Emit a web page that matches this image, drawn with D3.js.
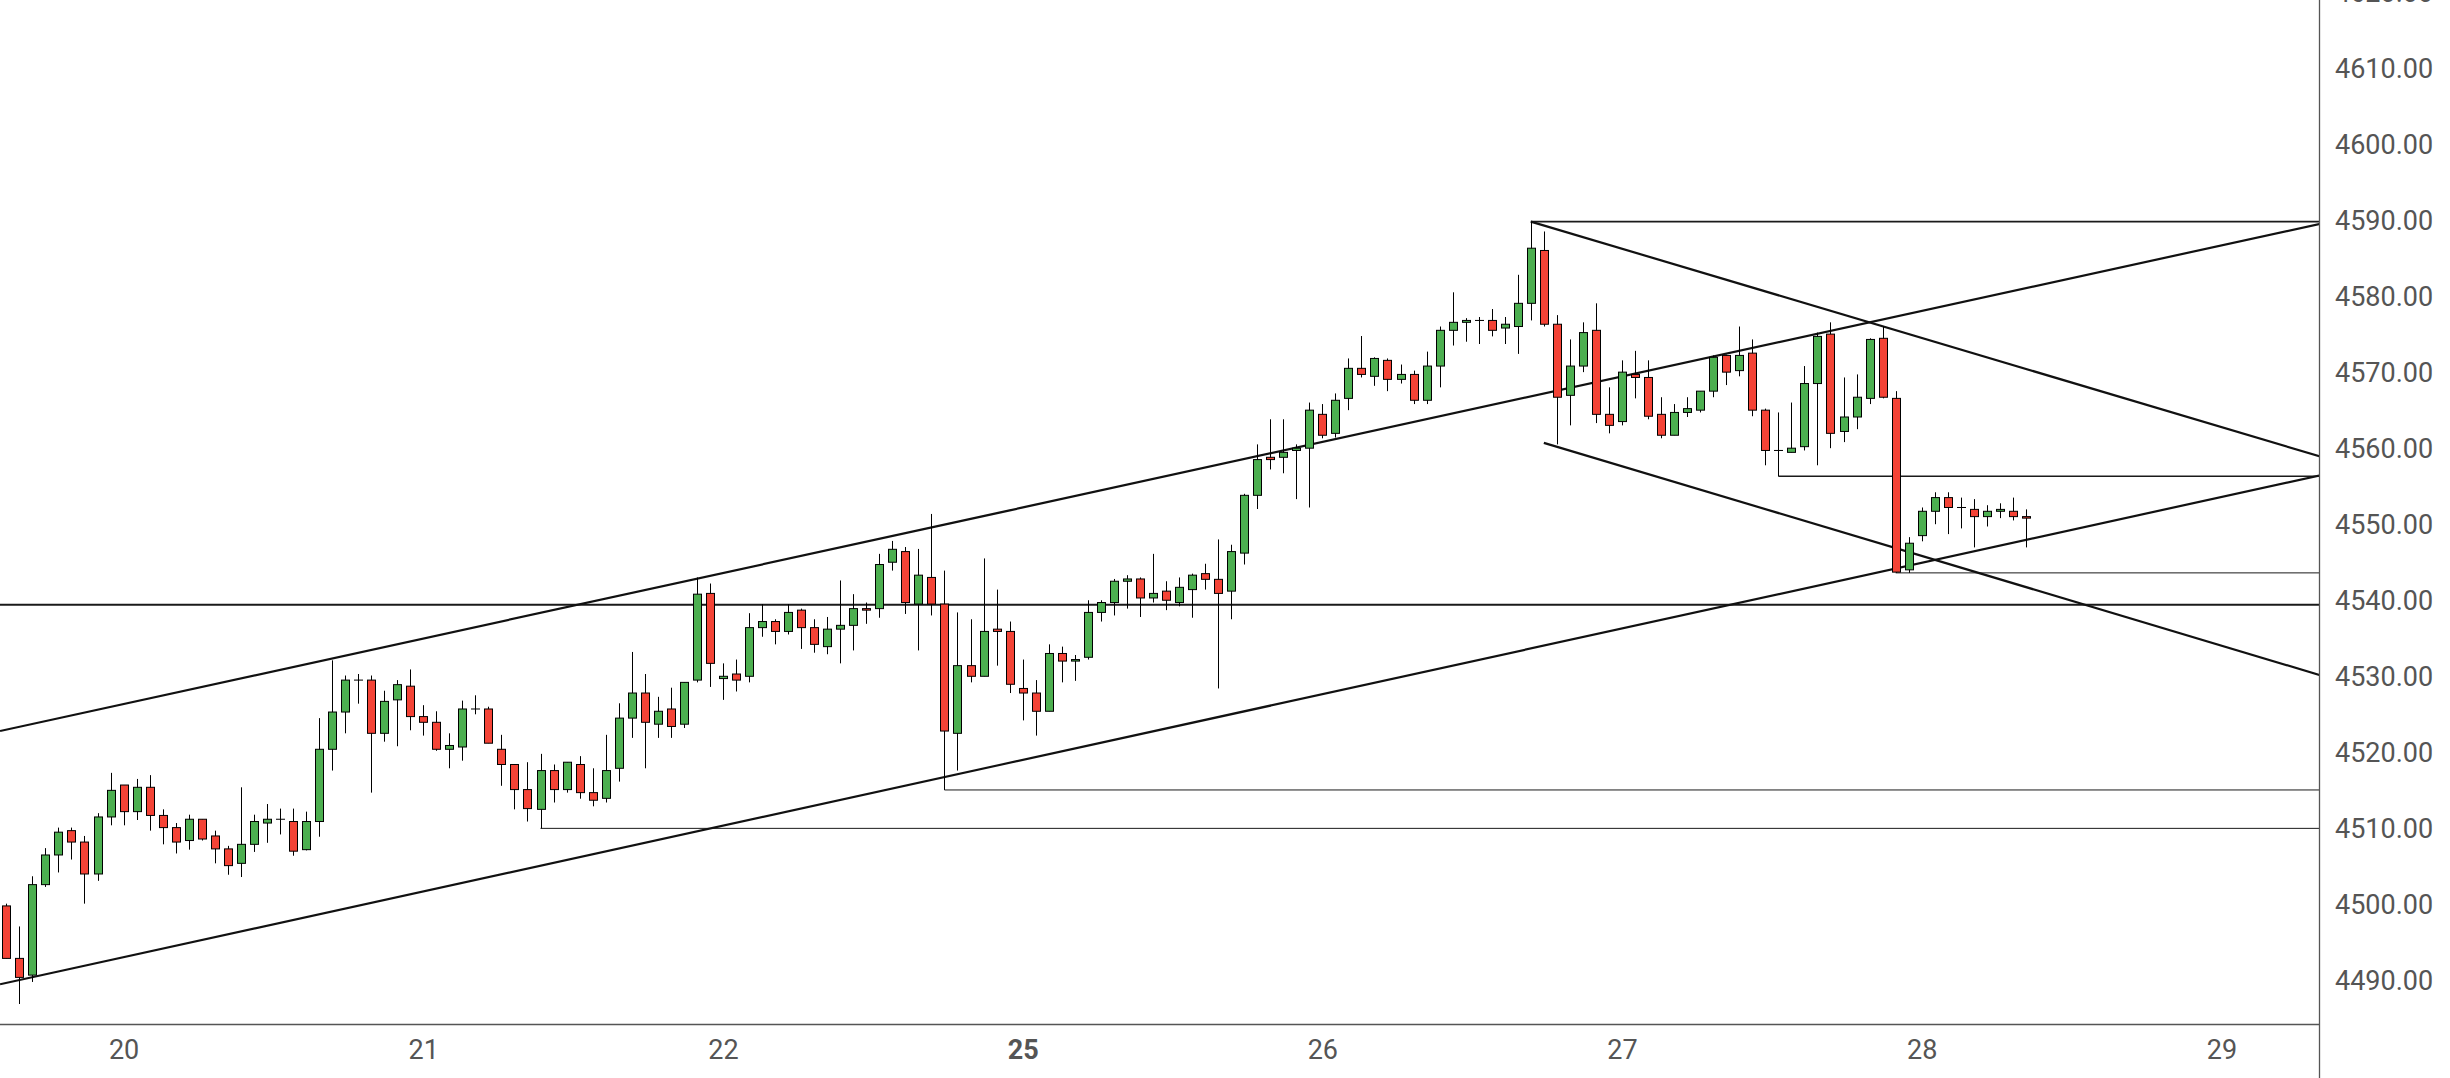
<!DOCTYPE html>
<html>
<head>
<meta charset="utf-8">
<script src="https://cdn.jsdelivr.net/npm/d3@7"></script>
<style>
  body { margin: 0; background: #fff; }
  svg { display: block; }
</style>
</head>
<body>
<svg id="chart"></svg>
<script>
// hourly bars, Oct 19 (tail) .. Oct 28
var open = [4499.9,4493.0,4490.8,4502.7,4506.6,4509.8,4508.3,4504.1,4511.6,4515.8,
  4512.3,4515.5,4511.8,4510.2,4508.5,4511.3,4509.1,4507.4,4505.5,4508.0,
  4510.8,4511.3,4511.0,4507.3,4511.0,4520.5,4525.4,4529.6,4529.6,4522.6,
  4527.0,4528.8,4524.8,4524.05,4520.5,4520.8,4525.8,4525.8,4520.5,4518.5,
  4515.2,4512.6,4517.7,4515.2,4518.5,4514.8,4514.05,4518.0,4524.6,4527.9,
  4523.8,4525.8,4523.8,4529.6,4541.0,4529.8,4530.4,4530.1,4536.5,4537.3,
  4536.0,4538.8,4536.5,4534.0,4536.3,4536.8,4539.0,4539.0,4545.1,4546.5,
  4539.6,4543.1,4539.6,4522.6,4531.5,4530.1,4536.3,4536.0,4528.5,4527.9,
  4525.5,4533.1,4532.1,4532.6,4538.5,4539.8,4542.6,4542.9,4540.4,4541.3,
  4539.8,4541.5,4543.6,4542.85,4541.3,4546.3,4553.9,4558.9,4558.9,4559.8,
  4560.1,4564.55,4562.05,4566.65,4570.6,4569.55,4571.65,4569.15,4569.8,4566.4,
  4570.9,4575.6,4576.65,4576.9,4576.9,4575.9,4576.1,4579.15,4586.1,4576.4,
  4567.05,4570.9,4575.6,4564.55,4563.6,4569.8,4569.4,4564.55,4561.8,4564.8,
  4565.1,4567.6,4572.3,4570.3,4572.6,4565.1,4559.8,4559.55,4560.3,4568.6,
  4575.1,4562.3,4564.2,4566.65,4574.55,4566.65,4544.1,4548.6,4551.8,4553.6,
  4552.3,4552.05,4551.1,4551.8,4551.8,4551.1];
var high = [4500.2,4497.2,4503.8,4507.5,4510.2,4510.2,4509.1,4512.1,4517.4,4515.8,
  4516.6,4517.1,4512.6,4510.8,4511.9,4511.3,4509.8,4507.8,4515.5,4511.9,
  4513.3,4512.7,4512.7,4512.3,4524.6,4532.2,4530.2,4530.4,4530.2,4528.2,
  4529.6,4531.0,4526.3,4525.5,4522.6,4526.9,4527.6,4526.1,4522.4,4518.5,
  4518.8,4519.9,4518.5,4518.8,4519.6,4518.0,4522.4,4526.55,4533.3,4530.4,
  4527.4,4528.6,4529.3,4543.1,4542.3,4531.8,4532.3,4538.4,4539.6,4537.6,
  4539.6,4539.0,4537.6,4537.9,4542.7,4540.9,4539.8,4546.2,4547.9,4547.1,
  4546.85,4551.45,4544.0,4538.5,4537.6,4545.6,4541.5,4537.3,4532.3,4529.6,
  4534.3,4534.0,4532.9,4540.1,4540.1,4542.9,4543.4,4543.1,4546.2,4542.6,
  4543.1,4543.6,4544.9,4548.1,4547.4,4554.1,4560.6,4563.9,4563.9,4560.6,
  4566.1,4565.9,4567.3,4571.9,4574.85,4572.05,4571.9,4571.1,4570.3,4572.8,
  4576.1,4580.6,4577.2,4577.35,4578.4,4577.35,4582.9,4589.9,4588.6,4577.6,
  4574.4,4576.65,4579.15,4568.1,4571.65,4572.9,4571.65,4566.8,4565.9,4566.8,
  4567.6,4572.3,4572.4,4576.1,4574.4,4565.3,4564.8,4566.1,4570.9,4575.3,
  4576.65,4569.4,4569.8,4574.55,4576.1,4567.6,4548.4,4552.3,4554.3,4554.3,
  4553.6,4553.4,4552.6,4552.85,4553.6,4552.05];
var low = [4493.0,4487.0,4489.9,4502.4,4504.3,4506.0,4500.2,4503.2,4510.5,4510.5,
  4511.2,4509.8,4508.0,4506.8,4507.3,4508.5,4505.5,4504.0,4503.7,4507.0,
  4508.2,4509.3,4506.5,4507.2,4509.0,4517.7,4522.6,4526.5,4514.8,4521.5,
  4520.9,4523.0,4522.3,4520.3,4518.0,4519.0,4525.1,4521.3,4515.7,4512.6,
  4511.0,4510.1,4513.5,4514.8,4514.0,4513.0,4513.5,4516.25,4522.0,4518.0,
  4522.0,4522.0,4523.3,4529.3,4528.7,4527.0,4528.1,4529.3,4535.3,4534.3,
  4535.6,4533.7,4533.2,4533.0,4531.8,4533.5,4537.0,4537.8,4544.0,4538.3,
  4533.5,4538.1,4515.15,4517.7,4529.3,4530.1,4531.5,4527.9,4524.3,4522.3,
  4525.5,4529.3,4529.5,4532.3,4537.3,4538.1,4539.0,4537.9,4539.8,4538.8,
  4539.3,4537.8,4541.5,4528.5,4537.6,4544.8,4552.1,4557.3,4556.8,4553.4,
  4552.3,4561.4,4561.5,4565.1,4569.4,4568.3,4567.6,4568.6,4565.9,4565.9,
  4568.1,4573.6,4574.1,4573.8,4574.8,4573.8,4572.5,4576.9,4576.1,4560.6,
  4563.1,4570.1,4563.4,4562.05,4563.1,4566.65,4563.9,4561.4,4561.8,4564.2,
  4564.8,4566.8,4568.4,4569.55,4564.3,4557.85,4556.4,4559.55,4559.8,4557.85,
  4560.1,4560.9,4562.6,4565.9,4566.65,4543.7,4543.7,4547.85,4550.1,4548.8,
  4549.55,4547.05,4549.8,4550.9,4550.6,4547.05];
var close = [4493.0,4490.5,4502.7,4506.6,4509.6,4508.3,4504.1,4511.6,4515.1,4512.3,
  4515.5,4511.8,4510.2,4508.3,4511.3,4508.7,4507.4,4505.2,4508.0,4511.0,
  4511.3,4511.3,4507.1,4511.0,4520.5,4525.4,4529.6,4529.6,4522.6,4526.8,
  4529.0,4524.8,4524.05,4520.5,4521.0,4525.8,4525.8,4521.3,4518.5,4515.2,
  4512.7,4517.7,4515.2,4518.8,4514.8,4513.8,4517.7,4524.6,4527.9,4524.05,
  4525.5,4523.5,4529.3,4540.9,4531.8,4530.1,4529.6,4536.5,4537.3,4536.0,
  4538.5,4536.5,4534.3,4536.3,4536.8,4539.0,4538.8,4544.8,4546.8,4539.8,
  4543.4,4539.6,4522.9,4531.5,4530.1,4536.0,4536.0,4529.05,4527.9,4525.5,
  4533.1,4532.1,4532.3,4538.5,4539.8,4542.6,4542.9,4540.4,4541.0,4540.1,
  4541.8,4543.4,4542.85,4541.0,4546.5,4553.9,4558.6,4558.6,4559.55,4560.1,
  4565.1,4561.8,4566.4,4570.6,4569.8,4571.9,4569.15,4569.8,4566.4,4570.9,
  4575.6,4576.65,4576.9,4576.9,4575.6,4576.4,4579.15,4586.4,4576.4,4566.8,
  4570.9,4575.3,4564.55,4563.1,4570.1,4569.4,4564.3,4561.8,4564.8,4565.3,
  4567.6,4572.05,4570.1,4572.3,4565.1,4559.8,4559.8,4560.1,4568.6,4574.8,
  4562.05,4564.2,4566.8,4574.4,4566.8,4543.8,4547.6,4551.8,4553.6,4552.3,
  4552.3,4551.1,4551.8,4552.05,4551.1,4550.9];

// day labels (bar index where each session date starts)
var dayTicks = [9, 32, 55, 78, 101, 124, 147, 170];
var dayLabels = ["20", "21", "22", "25", "26", "27", "28", "29"];
var weekStart = "25";

// price axis
var priceTicks = d3.range(4490, 4621, 10);

// drawn trend lines: [[barIndex, price], [barIndex, price]]
var channelUpper = [[-0.48, 4522.9], [159.15, 4582.7]];
var channelLower = [[-0.48, 4489.6], [159.15, 4549.6]];
var fallUpper = [[117, 4589.9], [159.15, 4568.4]];
var fallLower = [[118, 4560.8], [159.15, 4539.7]];

// horizontal rays: start bar, price
var levelStart = [117, 136, 145, 72, 41];
var levelPrice = [4589.9, 4556.4, 4543.7, 4515.15, 4510.1];
var levelWidth = [1.6, 1.6, 1, 1, 1];
var supportPrice = 4539.5;

var WIDTH = 2450;
var HEIGHT = 1078;
var plotRight = 2319;
var plotBottom = 1024;

var svg = d3.select("#chart").attr("width", WIDTH).attr("height", HEIGHT);

var x = d3.scaleLinear().domain([0, 155]).range([6.3, 6.3 + 155 * 13.03]);
var y = d3.scaleLinear().domain([4610, 4490]).range([68.75, 981.2]);

svg.append("clipPath").attr("id", "plot")
  .append("rect").attr("x", 0).attr("y", 0).attr("width", plotRight).attr("height", plotBottom);

var plot = svg.append("g").attr("clip-path", "url(#plot)");

// support line across the whole chart
plot.append("line")
  .attr("x1", 0).attr("x2", plotRight)
  .attr("y1", y(supportPrice)).attr("y2", y(supportPrice))
  .attr("stroke", "#1a1a1a").attr("stroke-width", 2);

// horizontal rays
levelPrice.forEach(function(p, k) {
  plot.append("line")
    .attr("x1", x(levelStart[k])).attr("x2", plotRight)
    .attr("y1", y(p)).attr("y2", y(p))
    .attr("stroke", "#1a1a1a").attr("stroke-width", levelWidth[k]);
});

// trend lines, extended to the right edge
var rightIdx = x.invert(plotRight + 5);
[channelUpper, channelLower, fallUpper, fallLower].forEach(function(l) {
  var slope = (l[1][1] - l[0][1]) / (l[1][0] - l[0][0]);
  var endP = l[0][1] + slope * (rightIdx - l[0][0]);
  plot.append("line")
    .attr("x1", x(l[0][0])).attr("y1", y(l[0][1]))
    .attr("x2", x(rightIdx)).attr("y2", y(endP))
    .attr("stroke", "#111").attr("stroke-width", 2.2);
});

// candles
var bars = plot.selectAll("g.bar").data(d3.range(open.length)).enter()
  .append("g").attr("class", "bar");

function cx(i) { return Math.round(x(i)) + 0.5; }

bars.append("line")
  .attr("x1", cx).attr("x2", cx)
  .attr("y1", function(i) { return y(high[i]); })
  .attr("y2", function(i) { return y(low[i]); })
  .attr("stroke", "#000").attr("stroke-width", 1);

bars.append("rect")
  .attr("x", function(i) { return cx(i) - 4; })
  .attr("width", 8)
  .attr("y", function(i) { return y(Math.max(open[i], close[i])); })
  .attr("height", function(i) { return Math.max(0.01, Math.abs(y(open[i]) - y(close[i]))); })
  .attr("fill", function(i) { return close[i] >= open[i] ? "#4caf50" : "#f44336"; })
  .attr("stroke", "#000").attr("stroke-width", 1);

// axes frame
svg.append("line")
  .attr("x1", 0).attr("x2", plotRight).attr("y1", plotBottom + 0.5).attr("y2", plotBottom + 0.5)
  .attr("stroke", "#555").attr("stroke-width", 1.3);
svg.append("line")
  .attr("x1", plotRight + 0.5).attr("x2", plotRight + 0.5).attr("y1", 0).attr("y2", HEIGHT)
  .attr("stroke", "#555").attr("stroke-width", 1.3);

// price labels
var yAxis = d3.axisRight(y).tickValues(priceTicks).tickSize(0).tickPadding(0)
  .tickFormat(function(d) { return d.toFixed(2); });
var gy = svg.append("g").attr("transform", "translate(" + (plotRight + 16) + ",0)").call(yAxis);
gy.select(".domain").remove();
gy.selectAll("text")
  .attr("font-family", "Roboto, 'Noto Sans', sans-serif")
  .attr("font-size", "27px")
  .attr("fill", "#555");

// date labels
var xAxis = d3.axisBottom(x).tickValues(dayTicks).tickSize(0).tickPadding(0)
  .tickFormat(function(d, k) { return dayLabels[k]; });
var gx = svg.append("g").attr("transform", "translate(0," + (plotBottom + 16) + ")").call(xAxis);
gx.select(".domain").remove();
gx.selectAll("text")
  .attr("font-family", "Roboto, 'Noto Sans', sans-serif")
  .attr("font-size", "27px")
  .attr("fill", "#555")
  .attr("font-weight", function(d, k) { return dayLabels[k] == weekStart ? "bold" : "normal"; });
</script>
</body>
</html>
